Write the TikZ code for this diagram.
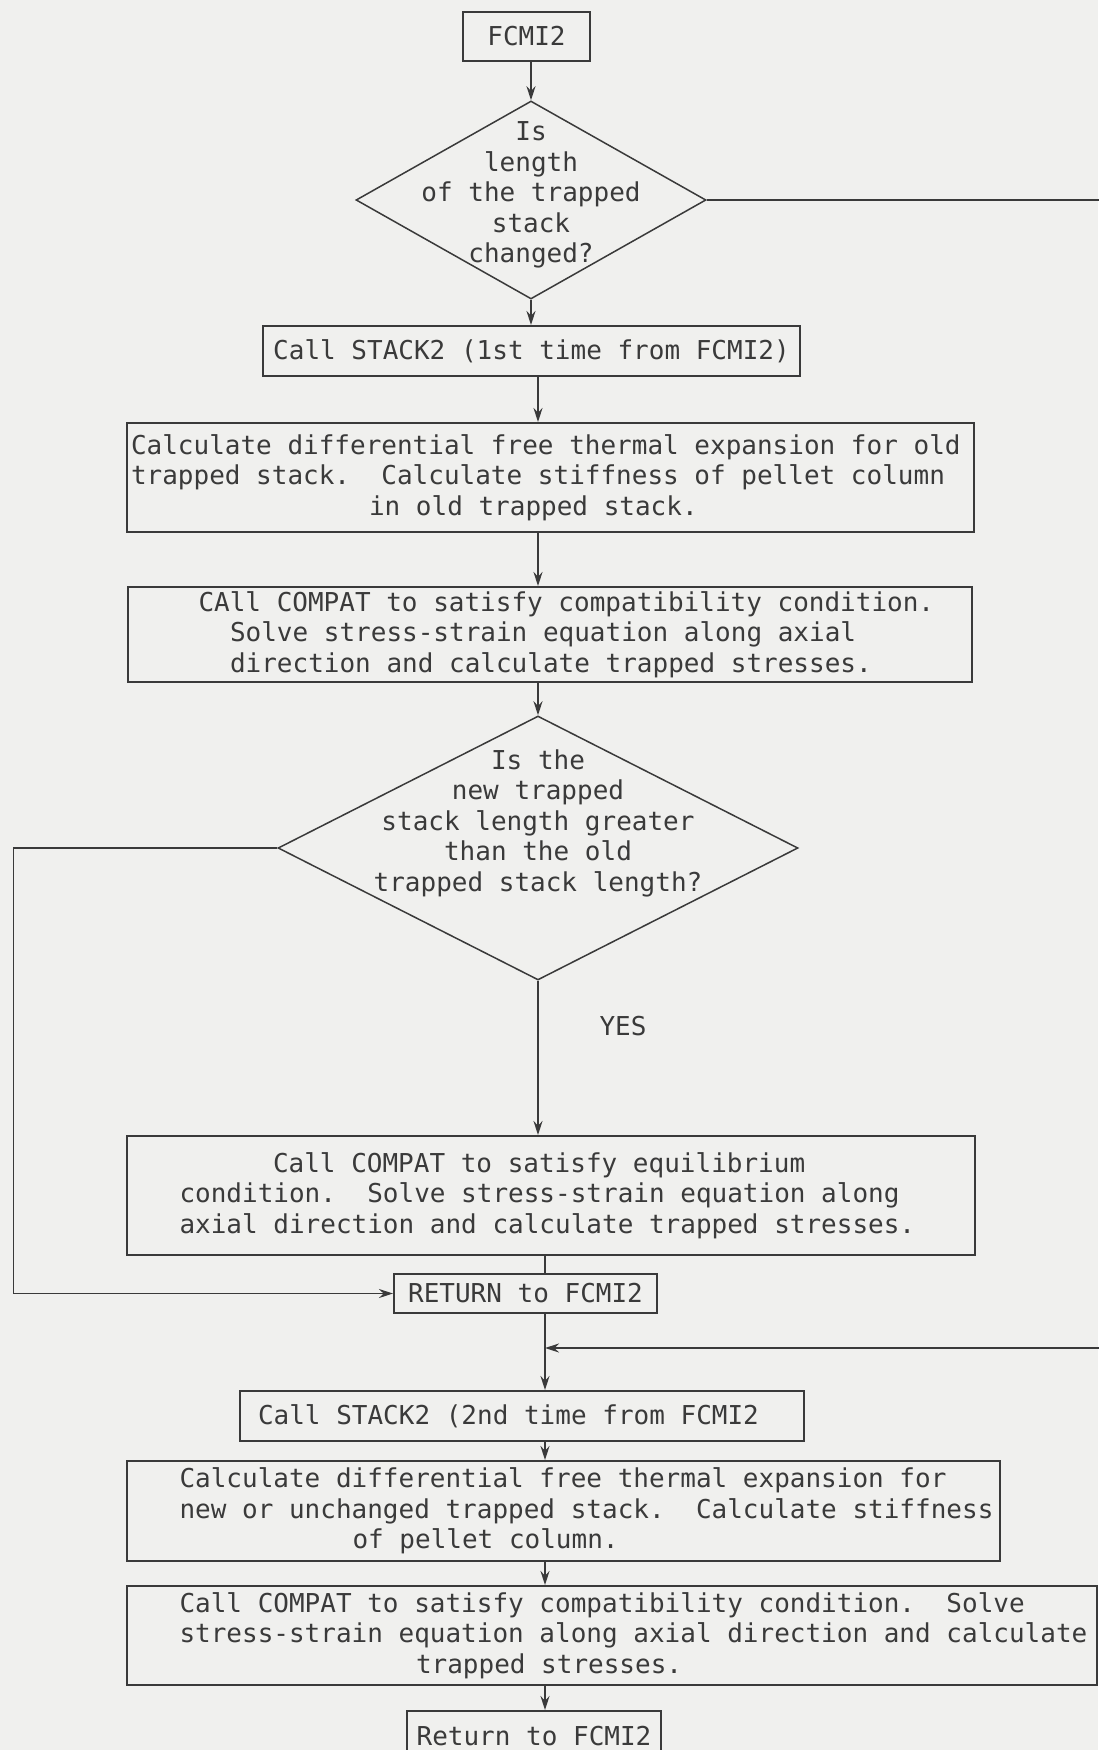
\documentclass[tikz,border=0pt]{standalone}
\usepackage{fontspec}
\newfontfamily\flowmono{DejaVu Sans Mono}
\usetikzlibrary{shapes.geometric,arrows.meta}

\definecolor{paper}{RGB}{240,240,238}
\definecolor{ink}{RGB}{58,58,58}
\newcommand{\flowfont}{\flowmono\fontsize{26}{30.5}\selectfont\frenchspacing}
\newcommand{\ind}[1]{\hspace*{#1pt}}

\begin{document}
\begin{tikzpicture}[x=1pt, y=-1pt,
	procbox/.style={draw=ink, line width=2pt, text=ink, font=\flowfont, align=flush left, anchor=north west, inner xsep=4pt, inner ysep=0pt},
	termbox/.style={draw=ink, line width=2pt, text=ink, font=\flowfont, align=center, inner sep=0pt},
	decision/.style={draw=ink, line width=1.5pt, diamond, inner sep=0pt},
	dtext/.style={text=ink, font=\flowfont, align=center},
	flow/.style={draw=ink, line width=1.5pt, -{Stealth[length=14pt,width=9pt]}},
	link/.style={draw=ink, line width=1.5pt}]
	\fill[paper] (0,0) rectangle (1098,1750);
	\useasboundingbox (0,0) rectangle (1098,1750);

	% first pass
	\node[termbox, minimum width=127pt, minimum height=49pt] (start) at (526.5,36.5) {FCMI2};
	\node[decision, minimum width=350pt, minimum height=198pt] (q1) at (531,200) {};
	\node[dtext] (q1txt) at ([yshift=5pt]q1.center) {Is\\length\\of the trapped\\stack\\changed?};
	\node[termbox, minimum width=537pt, minimum height=50pt] (call1) at (531.5,351) {Call STACK2 (1st time from FCMI2)};
	\node[procbox, text width=839pt, minimum height=109pt] (calc1) at (126,422)
		{Calculate differential free thermal expansion for old\\
		trapped stack.\ \ Calculate stiffness of pellet column\\
		\ind{238}in old trapped stack.};
	\node[procbox, text width=836pt, minimum height=95pt] (compat1) at (127,586)
		{\ind{66.5}CAll COMPAT to satisfy compatibility condition.\\
		\ind{98}Solve stress-strain equation along axial\\
		\ind{98}direction and calculate trapped stresses.};

	% stack length test
	\node[decision, minimum width=520pt, minimum height=264pt] (q2) at (538,848) {};
	\node[dtext] (q2txt) at ([yshift=25pt]q2.center) {Is the\\new trapped\\stack length greater\\than the old\\trapped stack length?};
	\node[dtext] (yes) at (623,1026) {YES};
	\node[procbox, text width=840pt, minimum height=119pt] (compat2) at (126,1135)
		{\ind{142}Call COMPAT to satisfy equilibrium\\
		\ind{48.5}condition.\ \ Solve stress-strain equation along\\
		\ind{48.5}axial direction and calculate trapped stresses.};
	\node[termbox, minimum width=263pt, minimum height=39pt] (ret1) at (525.5,1293.5) {RETURN to FCMI2};

	% second pass
	\coordinate (merge) at (545,1348);
	\node[procbox, text width=556pt, minimum height=50pt] (call2) at (239,1390)
		{\ind{14}Call STACK2 (2nd time from FCMI2};
	\node[procbox, text width=869pt, inner xsep=2pt, minimum height=100pt] (calc2) at (126,1460)
		{\ind{50.5}Calculate differential free thermal expansion for\\
		\ind{50.5}new or unchanged trapped stack.\ \ Calculate stiffness\\
		\ind{223.5}of pellet column.};
	\node[procbox, text width=962pt, minimum height=99pt] (compat3) at (126,1585)
		{\ind{48.5}Call COMPAT to satisfy compatibility condition.\ \ Solve\\
		\ind{48.5}stress-strain equation along axial direction and calculate\\
		\ind{285}trapped stresses.};
	\node[termbox, minimum width=254pt, minimum height=50pt] (ret2) at (534,1736) {Return to FCMI2};

	% connectors
	\draw[flow] (q1.north |- start.south) -- (q1.north);
	\draw[flow] (q1.south) -- (q1.south |- call1.north);
	\draw[flow] (call1.south -| q2.north) -- (calc1.north -| q2.north);
	\draw[flow] (calc1.south -| q2.north) -- (compat1.north -| q2.north);
	\draw[flow] (compat1.south -| q2.north) -- (q2.north);
	\draw[flow] (q2.south) -- (q2.south |- compat2.north);
	\draw[flow] (q2.west) -- ++(-264,0) |- (ret1.west);
	\draw[link] (compat2.south -| merge) -- (ret1.north -| merge);
	\draw[flow] (ret1.south -| merge) -- (call2.north -| merge);
	\draw[flow] (q1.east) -- ++(420,0) |- (merge);
	\draw[flow] (call2.south -| merge) -- (calc2.north -| merge);
	\draw[flow] (calc2.south -| merge) -- (compat3.north -| merge);
	\draw[flow] (compat3.south -| merge) -- (ret2.north -| merge);
\end{tikzpicture}
\end{document}
